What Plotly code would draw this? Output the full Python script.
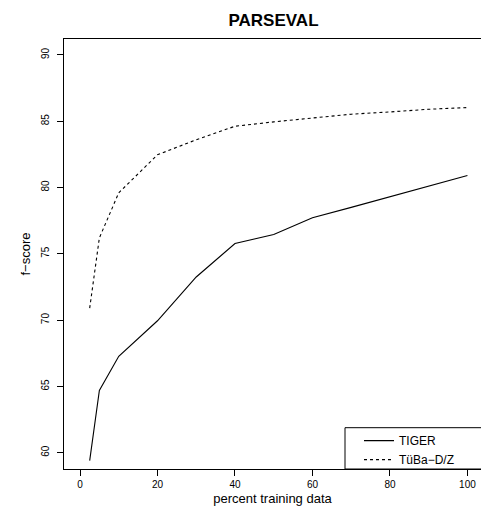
import plotly.graph_objects as go

percent = [2.5, 5, 10, 20, 30, 40, 50, 60, 70, 80, 90, 100]
tiger = [59.4, 64.7, 67.27, 69.95, 73.25, 75.78, 76.46, 77.72, 78.5, 79.3, 80.15, 80.9]
tuba = [70.9, 76.2, 79.6, 82.47, 83.6, 84.62, 84.95, 85.25, 85.53, 85.7, 85.9, 86.03]
series_names = ["TIGER", "TüBa−D/Z"]
x_ticks = [0, 20, 40, 60, 80, 100]
y_ticks = [60, 65, 70, 75, 80, 85, 90]

FONT = "Liberation Sans, Arial, Helvetica, sans-serif"

fig = go.Figure()
fig.add_trace(go.Scatter(x=percent, y=tiger, mode="lines", name=series_names[0],
                         line=dict(color="black", width=1.1)))
fig.add_trace(go.Scatter(x=percent, y=tuba, mode="lines", name=series_names[1],
                         line=dict(color="black", width=1.1, dash="3px,3px")))

fig.update_layout(
    width=481, height=506,
    margin=dict(l=64, r=0, t=39, b=37),
    paper_bgcolor="white", plot_bgcolor="white",
    font=dict(family=FONT, color="black"),
    title=dict(text="<b>PARSEVAL</b>", x=(273.5) / 481, xanchor="center",
               y=1 - 20 / 506, yanchor="middle",
               font=dict(size=17, family=FONT, color="black")),
    showlegend=True,
    legend=dict(x=(359 - 64) / 417, xanchor="left", y=-0.012, yanchor="bottom",
                bgcolor="rgba(0,0,0,0)", borderwidth=0,
                font=dict(size=12, family=FONT), tracegroupgap=0,
                itemwidth=30),
    xaxis=dict(range=[-4.13, 103.5], tickvals=x_ticks, ticktext=[str(v) for v in x_ticks],
               showgrid=False, zeroline=False, showline=True, linecolor="black",
               linewidth=1, mirror=True, ticks="outside", ticklen=6, tickcolor="black",
               tickfont=dict(size=10, family=FONT),
               title=dict(text="percent training data", font=dict(size=13, family=FONT),
                          standoff=8)),
    yaxis=dict(range=[58.77, 91.2], tickvals=y_ticks, ticktext=[str(v) for v in y_ticks],
               showgrid=False, zeroline=False, showline=True, linecolor="black",
               linewidth=1, ticks="outside", ticklen=6, tickcolor="black",
               tickangle=-90, ticklabelstandoff=4,
               tickfont=dict(size=10, family=FONT),
               title=dict(text="f−score", font=dict(size=13, family=FONT), standoff=6)),
)

# legend frame (extends past the right edge, as in the original)
fig.add_shape(type="rect", xref="paper", yref="paper",
              x0=(345 - 64) / 417, x1=1.05, y0=0, y1=(469 - 427.7) / 430,
              line=dict(color="black", width=1), fillcolor="white", layer="below")

fig.write_html("out.html", config={"displayModeBar": False},
               post_script="document.body.style.margin='0';document.body.style.overflow='hidden';")
